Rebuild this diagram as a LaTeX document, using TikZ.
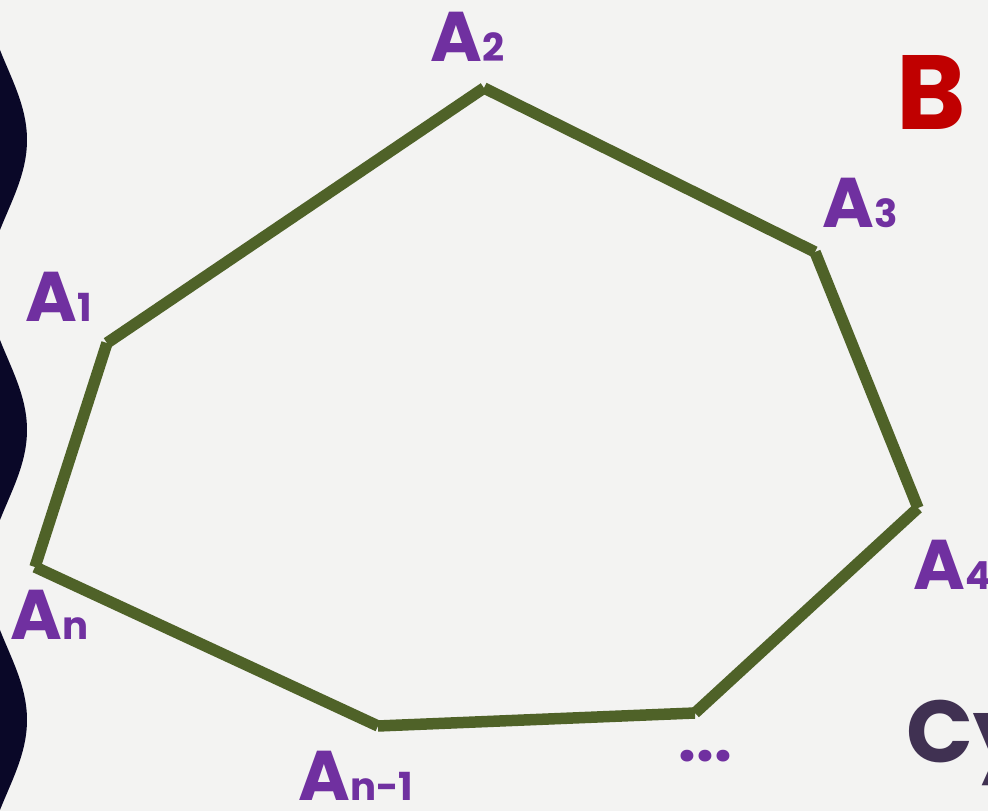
\documentclass[tikz,border=0pt]{standalone}
\usepackage{fontspec}
\setmainfont{Poppins}
\usepackage{tikz}
\usetikzlibrary{positioning}

\definecolor{bgray}{HTML}{F3F3F2}
\definecolor{wavenavy}{HTML}{0A0828}
\definecolor{edgegreen}{HTML}{4F6228}
\definecolor{labpurple}{HTML}{7030A0}
\definecolor{bred}{HTML}{C00000}
\definecolor{cydark}{HTML}{403152}

\newcommand{\Alab}[1]{{\fontsize{20}{20}\selectfont A}{\fontsize{11}{11}\selectfont #1}}

\begin{document}
\begin{tikzpicture}[
  x=0.1mm, y=-0.1mm,
  edge/.style={draw=edgegreen, line width=1.15mm, line cap=butt},
  lbl/.style={text=labpurple, font=\bfseries, inner sep=0pt, anchor=base west},
  big/.style={font=\bfseries, inner sep=0pt, anchor=base west}
]
  \path[use as bounding box, fill=bgray] (0,0) rectangle (988,811);
  \clip (0,0) rectangle (988,811);

  % wavy band on the left
  \fill[wavenavy] plot[domain=0:811, samples=240]
    ({27*(cos(1.24138*(\x-140))+0.37)/1.37}, \x) -- (-60,811) -- (-60,0) -- cycle;

  % corners
  \coordinate (A1) at (107,343);
  \coordinate (A2) at (484,88);
  \coordinate (A3) at (815,252);
  \coordinate (A4) at (918,508);
  \coordinate (Ad) at (695,713);
  \coordinate (Am) at (378,726);
  \coordinate (An) at (35,567);

  \draw[edge] (A1) -- (A2);
  \draw[edge] (A2) -- (A3);
  \draw[edge] (A3) -- (A4);
  \draw[edge] (A4) -- (Ad);
  \draw[edge] (Ad) -- (Am);
  \draw[edge] (Am) -- (An);
  \draw[edge] (An) -- (A1);

  % labels
  \node[lbl] (lA1) at (25,322) {\Alab{1}};
  \node[lbl] (lA2) at (430,62) {\Alab{2}};
  \node[lbl] (lA3) at (822,228) {\Alab{3}};
  \node[lbl] (lA4) at (913,590) {\Alab{4}};
  \node[lbl] (lAn) at (10,640) {\Alab{n}};
  \node[lbl] (lAm) at (298,801) {\Alab{n-1}};
  \node[lbl] (ldots) at (678,762) {\fontsize{18}{18}\selectfont\textbf{...}};

  \node[big, text=bred] (B) at (896,130) {\fontsize{30}{30}\selectfont B};
  \node[big, text=cydark] (Cy) at (906,763) {\fontsize{25}{25}\selectfont Cy};
\end{tikzpicture}
\end{document}
